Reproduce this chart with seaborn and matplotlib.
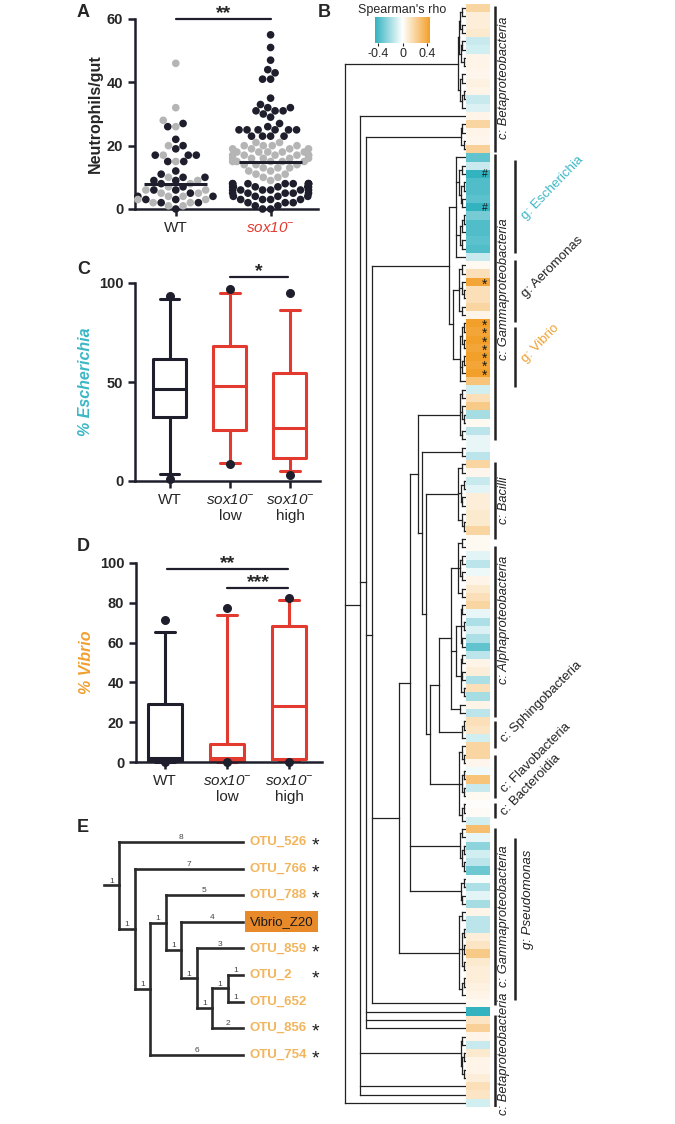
import numpy as np
import pandas as pd
import matplotlib
matplotlib.use("Agg")
import matplotlib.pyplot as plt
import seaborn as sns
from matplotlib.colors import LinearSegmentedColormap
from matplotlib.collections import LineCollection
from matplotlib.font_manager import FontProperties

sns.set_style("ticks")
plt.rcParams['font.family'] = ['Liberation Sans', 'DejaVu Sans']
plt.rcParams['mathtext.fontset'] = 'custom'
# digits inside \mathit fall back to the rm font, so make rm italic too
plt.rcParams['mathtext.rm'] = 'Liberation Sans:italic'
plt.rcParams['mathtext.it'] = 'Liberation Sans:italic'
plt.rcParams['mathtext.bf'] = 'Liberation Sans:bold'

# ---------------- data ----------------
# Panel A: neutrophils per gut (dark / light dots)
wt_dark = [27, 26, 22, 20, 19, 17, 17, 17, 15, 15, 12, 11, 10, 10, 9, 9, 8, 7, 6, 6, 5, 4, 4, 3, 3, 2, 2, 0]
wt_light = [46, 32, 28, 26, 20, 17, 15, 10, 9, 8, 7, 6, 6, 5, 5, 4, 4, 3, 3, 2, 2, 1, 1]
sox_dark = [55, 51, 47, 44, 43, 41, 41, 35, 33, 32, 32, 31, 31, 31, 30, 29, 27, 26, 25, 25,
            25, 25, 25, 25, 23, 23, 23, 23,
            8, 8, 8, 8, 8, 8, 8, 8, 7, 7, 7, 7, 7, 7, 6, 6, 6, 6, 6, 6, 5, 5, 5, 5, 5,
            4, 4, 4, 4, 3, 3, 3, 3, 2, 2, 2, 1, 1, 0, 0]
sox_light = [21, 21, 20, 20, 20, 20, 19, 19, 19, 19, 18, 18, 18, 18, 18, 17, 17, 17, 17, 17,
             17, 16, 16, 16, 16, 16, 15, 15, 15, 15, 15, 14, 14, 14, 13, 13, 13, 12, 12, 11,
             11, 10, 10, 9]

# Panels C / D: box statistics (WT, sox10- low, sox10- high)
esc_q1 = [32.1, 25.7, 11.8]
esc_med = [46.5, 48.1, 26.9]
esc_q3 = [61.5, 68.4, 54.4]
esc_lo = [3.4, 9.3, 5.1]
esc_hi = [91.9, 94.8, 86.3]
esc_out = [[93.2, 1.2], [97.0, 8.8], [94.8, 2.9]]

vib_q1 = [0.4, 0.3, 1.5]
vib_med = [1.8, 2.0, 28.0]
vib_q3 = [29.3, 9.2, 68.5]
vib_lo = [0.0, 0.0, 0.5]
vib_hi = [65.2, 74.0, 81.6]
vib_out = [[71.2, 0.0], [77.4, 0.0], [82.4, 0.0]]

# Panel B: Spearman's rho per OTU (top to bottom)
rho = [0.20, 0.08, 0.08, 0.10, -0.12, -0.10, 0.05, 0.05, 0.04, 0.06, 0.05, -0.12, -0.08, 0.05, 0.20, 0.05, 0.04, 0.22,
       -0.35, -0.12, -0.45, -0.38, -0.38, -0.36, -0.45, -0.30, -0.38, -0.38, -0.36, -0.38, -0.12, 0.03, 0.15, 0.42,
       0.15, 0.15, 0.20, 0.05, 0.45, 0.42, 0.45, 0.42, 0.45, 0.42, 0.45, 0.28, -0.10, 0.15, 0.25, -0.20, 0.03, -0.15, -0.05,
       -0.05, -0.15,
       0.20, 0.04, -0.12, -0.06, 0.08, 0.08, 0.10, 0.10, 0.20,
       0.03,
       0.03, -0.06, -0.15, -0.04, 0.05, 0.10, 0.15, 0.20, -0.05, -0.18, -0.08, -0.18, -0.35, -0.15, 0.05, 0.08, -0.18,
       0.15, -0.20, 0.05, -0.15,
       0.15, 0.12, -0.10,
       0.20, 0.20, 0.04, -0.03, 0.28, -0.12, 0.03, 0.01, 0.02,
       -0.10,
       0.30, -0.05, -0.25, -0.10, -0.15, -0.32, -0.02, -0.18, -0.06, -0.20, 0.05, -0.15, -0.15, 0.08, 0.12, 0.25,
       0.10, 0.08, 0.08, 0.06, 0.05, 0.03,
       -0.45, 0.12, 0.22, 0.05, -0.12, 0.10, 0.05, 0.05, 0.08, 0.15, 0.12, -0.10]
hash_rows = [20, 24]
star_runs = [[33], [38, 39, 40, 41, 42, 43, 44]]

# Panel B tree (node heights in % of root depth, 'o' = OTU in row order)
beta1a = "((((o,o)3,(o,o)3)5,((o,o)3,(o,o)2)4)6,((o,o)3,((o,o)2,o)3)5)7"
beta1b = "((o,o)3,(o,o)2)4"
esch = "(o,((o,o)3,((o,o)2,(o,o)3)4)6,(((o,o)2,o)3,(o,o)3)5,o)8"
aero = "((o,o)3,(o,(o,o)2)3,(o,o)3)6"
vib = "(((o,o)2,(o,o)2)3,((o,o)2,o)3,o)5"
gamma1 = "(" + esch + ",(" + aero + "," + vib + ")11)14"
g1c = "((o,o)3,(o,(o,o)2)3,(o,o)3)5"
g1d = "(o,o)3"
bacilli = "((o,o)3,((o,o)2,(o,o)3)4,(o,(o,o)2)3)7"
alpha = ("(((o,o)3,((o,o)3,(o,o)3)5,(o,o)3)7,(((o,o)3,(o,o)2,(o,o)3)4,"
         "((o,o)3,(o,o)3,(o,o)2)4)8,(o,o)5)12")
sphingo = "((o,o)2,o)3"
flavobac = "((o,(o,o)2)3,((o,o)2,(o,o)2)3,((o,o)2,o)3)6"
g2a1 = "((o,o)3,((o,o)2,(o,o)2)3)5"
g2a2 = "((o,o)2,(o,o)3)4"
g2b = "((o,o)3,((o,o)2,(o,o)2,(o,o)2)3,((o,o)2,o)3)6"
beta2a = "((o,o)3,((o,o)2,(o,o)2)3)4"
n10 = "(" + alpha + "," + sphingo + ")22"
n9 = "(" + n10 + "," + flavobac + ")30"
n8 = "(" + bacilli + "," + n9 + ")33"
n7 = "(" + g1d + "," + n8 + ")36"
n6 = "(" + g1c + "," + n7 + ")40"
n5 = "(" + n6 + "," + g2a1 + "," + g2a2 + ")46"
n4 = "(" + n5 + "," + g2b + ")55"
n3 = "(" + gamma1 + "," + n4 + ",o)78"
n2 = "(" + beta1b + "," + n3 + ",o,o,o)83"
n1 = "(o," + n2 + "," + beta2a + ",o,o)88"
tree_b = "(" + beta1a + "," + n1 + ",o)100"

# Panel B annotations (row units)
class_names = ['c: Betaproteobacteria', 'c: Gammaproteobacteria', 'c: Bacilli', 'c: Alphaproteobacteria',
               'c: Sphingobacteria', 'c: Flavobacteria', 'c: Bacteroidia', 'c: Gammaproteobacteria',
               'c: Betaproteobacteria']
class_start = [0.2, 18.1, 55.2, 65.3, 86.5, 90.6, 96.4, 99.4, 121.9]
class_end = [17.8, 52.6, 64.5, 86.0, 89.7, 95.7, 98.2, 120.7, 133.0]
class_row = [8.9, 34.4, 59.8, 74.3, 89.4, 95.4, 98.2, 110.0, 126.6]
class_angle = [90, 90, 90, 90, 45, 45, 46, 90, 90]
genus_names = ['g: Escherichia', 'g: Aeromonas', 'g: Vibrio', 'g: Pseudomonas']
genus_start = [18.8, 30.9, 39.0, 100.6]
genus_end = [30.0, 38.4, 46.2, 120.1]
genus_row = [26.3, 35.7, 43.5, 108.0]
genus_angle = [46, 45, 46, 90]
genus_color = ['#3bb7c6', '#222222', '#f0a030', '#222222']

# Panel E tree: (children or name, branch label)
e_tree = ([("OTU_526", "8"),
           ([("OTU_766", "7"),
             ([([("OTU_788", "5"),
                 ([("Vibrio_Z20", "4"),
                   ([("OTU_859", "3"),
                     ([([("OTU_2", "1"), ("OTU_652", "1")], "1"),
                       ("OTU_856", "2")], "1")], "1")], "1")], "1"),
               ("OTU_754", "6")], "1")], "1")], "1")
e_starred = ["OTU_526", "OTU_766", "OTU_788", "OTU_859", "OTU_2", "OTU_856", "OTU_754"]

DARK = '#1e1e2c'
RED = '#e23a2e'
TEAL = '#3bb7c6'
ORANGE = '#f0a030'

W, H = 675, 1124
fig = plt.figure(figsize=(W / 100, H / 100), dpi=100)


def px_axes(x0, y0, x1, y1):
    return fig.add_axes([x0 / W, 1 - y1 / H, (x1 - x0) / W, (y1 - y0) / H])


def prism_style(ax, yticks):
    sns.despine(ax=ax)
    for s in ['left', 'bottom']:
        ax.spines[s].set_linewidth(1.8)
        ax.spines[s].set_color(DARK)
    ax.tick_params(axis='both', width=1.8, length=5, color=DARK)
    ax.set_yticks(yticks)
    ax.set_yticklabels([str(v) for v in yticks], fontweight='bold', fontsize=10.5)
    ax.set_xlabel('')


sox_lab = r'$\mathit{sox10}^{-}$'

# ---------------- Panel A ----------------
axA = px_axes(135, 19, 318, 209)
df_a = pd.DataFrame({
    'group': ['WT'] * (len(wt_dark) + len(wt_light)) + ['sox10'] * (len(sox_dark) + len(sox_light)),
    'value': wt_dark + wt_light + sox_dark + sox_light,
    'shade': ['dark'] * len(wt_dark) + ['light'] * len(wt_light) + ['dark'] * len(sox_dark) + ['light'] * len(sox_light),
})
sns.swarmplot(data=df_a, x='group', y='value', hue='shade', order=['WT', 'sox10'],
              palette={'dark': DARK, 'light': '#b5b5b5'}, size=5.5, linewidth=0,
              ax=axA, legend=False, clip_on=False, zorder=3)
for i, g in enumerate(['WT', 'sox10']):
    med = np.median(df_a.loc[df_a.group == g, 'value'])
    axA.hlines(med, i - 0.33, i + 0.33, color=DARK, lw=2.2, zorder=5)
axA.set_xlim(-0.43, 1.5)
axA.set_ylim(0, 60)
prism_style(axA, [0, 20, 40, 60])
axA.set_xticks([0, 1])
axA.set_xticklabels(['WT', sox_lab], fontsize=11)
axA.get_xticklabels()[1].set_color(RED)
axA.set_ylabel('Neutrophils/gut', fontsize=11.5, fontweight='bold', labelpad=3)
axA.plot([0, 1], [60, 60], color=DARK, lw=1.6, clip_on=False)
axA.text(0.5, 60.4, '**', ha='center', va='baseline', fontsize=14, fontweight='bold')


# ---------------- Panels C and D ----------------
def draw_boxes(ax, q1, med, q3, lo, hi, out):
    for i in range(len(q1)):
        c = DARK if i == 0 else RED
        st = [dict(q1=q1[i], med=med[i], q3=q3[i], whislo=lo[i], whishi=hi[i], fliers=out[i])]
        art = ax.bxp(st, positions=[i], widths=0.55, capwidths=0.32, manage_ticks=False,
                     boxprops=dict(color=c, lw=2.2), whiskerprops=dict(color=c, lw=2.2),
                     capprops=dict(color=c, lw=2.2), medianprops=dict(color=c, lw=2.2),
                     flierprops=dict(marker='o', markerfacecolor=DARK, markeredgecolor='none',
                                     markersize=6.5, zorder=4))
        for arts in art.values():
            for a in arts:
                a.set_clip_on(False)


axC = px_axes(135, 283, 320, 481)
draw_boxes(axC, esc_q1, esc_med, esc_q3, esc_lo, esc_hi, esc_out)
axC.set_xlim(-0.58, 2.5)
axC.set_ylim(0, 100)
prism_style(axC, [0, 50, 100])
axC.set_xticks([0, 1, 2])
axC.set_xticklabels(['WT', sox_lab + '\nlow', sox_lab + '\nhigh'], fontsize=11)
axC.set_ylabel('% Escherichia', fontsize=11.5, fontweight='bold', fontstyle='italic', color=TEAL, labelpad=4)
axC.plot([1.0, 1.97], [103, 103], color=DARK, lw=1.6, clip_on=False)
axC.text(1.48, 103.6, '*', ha='center', va='baseline', fontsize=14, fontweight='bold')

axD = px_axes(136, 563, 322, 762)
draw_boxes(axD, vib_q1, vib_med, vib_q3, vib_lo, vib_hi, vib_out)
axD.set_xlim(-0.47, 2.53)
axD.set_ylim(0, 100)
prism_style(axD, [0, 20, 40, 60, 80, 100])
axD.set_xticks([0, 1, 2])
axD.set_xticklabels(['WT', sox_lab + '\nlow', sox_lab + '\nhigh'], fontsize=11)
axD.set_ylabel('% Vibrio', fontsize=11.5, fontweight='bold', fontstyle='italic', color=ORANGE, labelpad=4)
axD.plot([0.03, 1.98], [97, 97], color=DARK, lw=1.6, clip_on=False)
axD.text(1.0, 97.6, '**', ha='center', va='baseline', fontsize=14, fontweight='bold')
axD.plot([1.0, 1.98], [87.4, 87.4], color=DARK, lw=1.6, clip_on=False)
axD.text(1.5, 88.0, '***', ha='center', va='baseline', fontsize=14, fontweight='bold')


# ---------------- Panel B ----------------
def parse_tree(s):
    state = {'pos': 0, 'leaf': 0}

    def node():
        if s[state['pos']] == 'o':
            state['pos'] += 1
            r = state['leaf']
            state['leaf'] += 1
            return {'h': 0.0, 'y': r + 0.5, 'kids': []}
        state['pos'] += 1
        kids = [node()]
        while s[state['pos']] == ',':
            state['pos'] += 1
            kids.append(node())
        state['pos'] += 1
        j = state['pos']
        while state['pos'] < len(s) and s[state['pos']].isdigit():
            state['pos'] += 1
        h = int(s[j:state['pos']]) / 100
        return {'h': h, 'y': (kids[0]['y'] + kids[-1]['y']) / 2, 'kids': kids}

    return node()


def tree_segments(nd, segs):
    for k in nd['kids']:
        segs.append([(nd['h'], k['y']), (k['h'], k['y'])])
        tree_segments(k, segs)
    if nd['kids']:
        segs.append([(nd['h'], nd['kids'][0]['y']), (nd['h'], nd['kids'][-1]['y'])])


n_rows = len(rho)
row_px = (1107 - 4) / n_rows
axT = px_axes(343, 4, 466, 1107)
segs = []
tree_segments(parse_tree(tree_b), segs)
axT.add_collection(LineCollection(segs, colors='#222222', linewidths=0.9, capstyle='projecting'))
axT.set_xlim(1.0165, 0)
axT.set_ylim(n_rows, 0)
axT.axis('off')

cmap = LinearSegmentedColormap.from_list('rho', ['#33b2c0', '#ffffff', '#f2a02a'])
axH = px_axes(466, 4, 490, 1107)
cax = px_axes(375, 17, 430, 43)
sns.heatmap(np.array(rho).reshape(-1, 1), ax=axH, cmap=cmap, vmin=-0.45, vmax=0.45,
            xticklabels=False, yticklabels=False, cbar_ax=cax,
            cbar_kws={'orientation': 'horizontal', 'ticks': [-0.4, 0, 0.4]})
cbar = axH.collections[0].colorbar
cbar.outline.set_visible(False)
cbar.set_ticklabels(['-0.4', '0', '0.4'])
cbar.ax.tick_params(labelsize=9, length=2.5, width=0.8, pad=1)
cax.set_title("Spearman's rho", fontsize=9, pad=3)
for r in hash_rows:
    axH.text(0.78, r + 0.55, '#', ha='center', va='center', fontsize=7.5, color='#1a1a1a')

# one text per run of starred rows, line pitch matched to the row height
star_fp = FontProperties(family=['Liberation Sans', 'DejaVu Sans'], size=10)
_, lp_h, lp_d = fig.canvas.get_renderer().get_text_width_height_descent('lp', star_fp, ismath=False)
star_ls = (row_px - lp_d) / (lp_h - lp_d)
for run in star_runs:
    axH.text(0.78, np.mean(run) + 0.5 + 0.3, '\n'.join(['*'] * len(run)), ha='center', va='center',
             fontproperties=star_fp, linespacing=star_ls, color='#1a1a1a')

axL = px_axes(490, 4, 675, 1107)
axL.set_xlim(490, 675)
axL.set_ylim(n_rows, 0)
axL.axis('off')
for name, s, e, r, ang in zip(class_names, class_start, class_end, class_row, class_angle):
    axL.plot([494.5, 494.5], [s, e], color='#222222', lw=1.8, solid_capstyle='butt')
    if ang == 90:
        axL.text(504, r, name, rotation=90, ha='center', va='center', fontsize=9.3,
                 fontstyle='italic', color='#222222', clip_on=False)
    else:
        axL.text(507, r, name, rotation=ang, rotation_mode='anchor', ha='left', va='bottom',
                 fontsize=9.5, color='#222222', clip_on=False)
for name, s, e, r, ang, c in zip(genus_names, genus_start, genus_end, genus_row, genus_angle, genus_color):
    axL.plot([515, 515], [s, e], color='#222222', lw=1.8, solid_capstyle='butt')
    if ang == 90:
        axL.text(528, r, name, rotation=90, ha='center', va='center', fontsize=9.5,
                 fontstyle='italic', color=c)
    else:
        axL.text(528, r, name, rotation=ang, rotation_mode='anchor', ha='left', va='bottom',
                 fontsize=9.5, color=c)

# ---------------- Panel E ----------------
axE = px_axes(90, 830, 340, 1070)
axE.set_xlim(-1.871, 14.258)
axE.set_ylim(8.571, -0.451)
axE.axis('off')
leaf_depth = 8
leaf_order = []
e_segs = []
e_blabels = []


def place(node, depth):
    item, lab = node
    if isinstance(item, str):
        y = len(leaf_order)
        leaf_order.append(item)
        return y, leaf_depth
    ys = []
    for child in item:
        cy, cx = place(child, depth + 1)
        e_segs.append([(depth, cy), (cx, cy)])
        e_blabels.append(((depth + cx) / 2, cy, child[1]))
        ys.append(cy)
    e_segs.append([(depth, ys[0]), (depth, ys[-1])])
    return (ys[0] + ys[-1]) / 2, depth


root_y, _ = place(e_tree, 0)
e_segs.append([(-1, root_y), (0, root_y)])
e_blabels.append((-0.5, root_y, e_tree[1]))
axE.add_collection(LineCollection(e_segs, colors='#2a2a2a', linewidths=1.9, capstyle='projecting'))
for x, y, lab in e_blabels:
    axE.text(x, y - 0.03, lab, ha='center', va='bottom', fontsize=6, color='#444444')
for i, name in enumerate(leaf_order):
    if name.startswith('Vibrio'):
        axE.text(8.45, i, name, ha='left', va='center', fontsize=9.5, color='#1a1a1a',
                 bbox=dict(boxstyle='square,pad=0.35', fc='#e8892a', ec='none'))
    else:
        axE.text(8.45, i, name, ha='left', va='center', fontsize=9.5, fontweight='bold', color='#f2b55c')
    if name in e_starred:
        axE.text(12.7, i + 0.16, '*', ha='center', va='center', fontsize=14, color='#1a1a1a')

# panel letters
for lab, x, y in [('A', 77, 4), ('B', 318, 4), ('C', 77, 261), ('D', 77, 538), ('E', 77, 819)]:
    fig.text(x / W, 1 - y / H, lab, fontsize=13, fontweight='bold', ha='left', va='top')

fig.savefig('out.png', dpi=100)
